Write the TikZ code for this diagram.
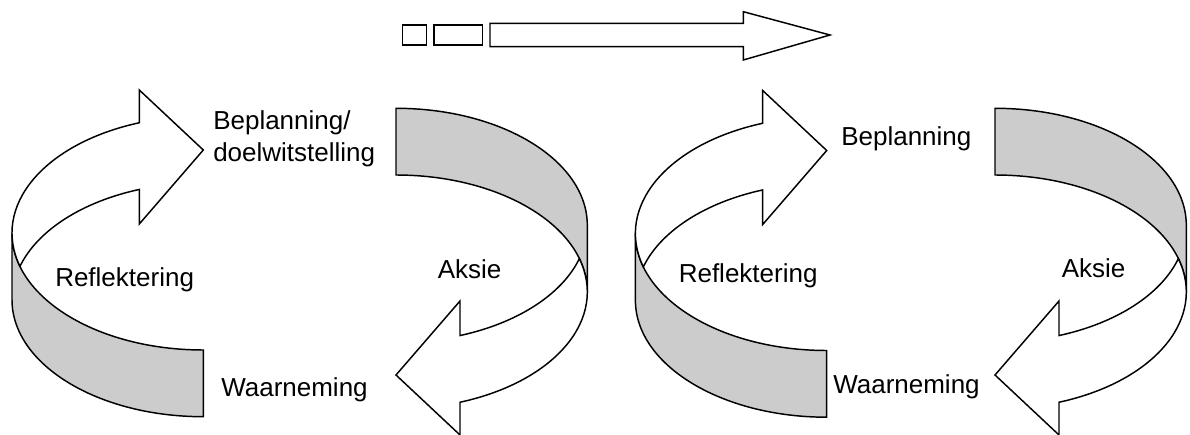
\documentclass[tikz,border=0pt]{standalone}
\usepackage{tikz}
\usepackage{fontspec}
\setmainfont{Liberation Sans}
\definecolor{bandgray}{RGB}{204,204,204}

\tikzset{
  outline/.style={draw=black, line width=1.1pt, line join=miter},
  band/.style={outline, fill=bandgray},
  flow/.style={outline, fill=white},
  txt/.style={anchor=base west, inner sep=0pt,
              font=\fontsize{19.5pt}{23.4pt}\selectfont},
  % one half of a cycle: the shaded ribbon below and the curved arrow above,
  % drawn round the centre of the upper ellipse
  halfloop/.pic={
    \path[band] (-191.3,0)
        arc[start angle=180, end angle=90, x radius=191.3, y radius=117]
        -- (0,183.7)
        arc[start angle=90, end angle=180, x radius=191.3, y radius=117]
        -- cycle;
    \path[flow] (-183.35,33.35)
        arc[start angle=163.44, end angle=250.45, x radius=191.3, y radius=117]
        -- (-64,-143) -- (0,-83) -- (-64,-9) -- (-64,-43.56)
        arc[start angle=250.45, end angle=196.56, x radius=191.3, y radius=117]
        -- cycle;
  }
}

\begin{document}
\begin{tikzpicture}[x=0.75pt, y=-0.75pt]
\useasboundingbox (0,0) rectangle (1190,435);

% progress arrow along the top
\draw[outline] (402.7,25) rectangle (426.7,45);
\draw[outline] (434,25) rectangle (482.7,45);
\draw[outline] (490,23.3) -- (743.3,23.3) -- (743.3,11.7) -- (830,35)
  -- (743.3,60) -- (743.3,46.7) -- (490,46.7) -- cycle;

% first cycle
\pic at (203.3,233) {halfloop};
\pic[rotate=180] at (396,292) {halfloop};

% second cycle
\pic at (826.7,233.5) {halfloop};
\pic[rotate=180] at (995,292) {halfloop};

% labels of the first cycle
\node[txt] (plan1a) at (213,130) {Beplanning/};
\node[txt] (plan1b) at (213,161.7) {doelwitstelling};
\node[txt] (refl1) at (55,286) {Reflektering};
\node[txt] (aks1) at (437.5,278) {Aksie};
\node[txt] (obs1) at (221,396) {Waarneming};

% labels of the second cycle
\node[txt] (plan2) at (841,146) {Beplanning};
\node[txt] (refl2) at (678.5,282) {Reflektering};
\node[txt] (aks2) at (1061.5,277) {Aksie};
\node[txt] (obs2) at (833,393) {Waarneming};
\end{tikzpicture}
\end{document}
